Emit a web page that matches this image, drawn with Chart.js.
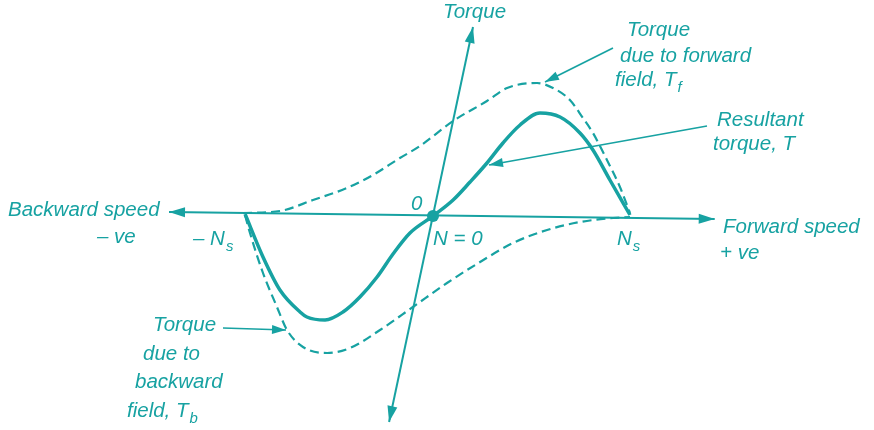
<!DOCTYPE html>
<html>
<head>
<meta charset="utf-8">
<script src="https://cdn.jsdelivr.net/npm/chart.js@4"></script>
<style>
  body { margin: 0; background: #fff; }
  canvas { display: block; }
</style>
</head>
<body>
<canvas id="chartTorque" width="874" height="430"></canvas>
<script>
// speed in units of Ns, torque in arbitrary units
const speedT = [-0.954, -0.863, -0.777, -0.675, -0.640, -0.548, -0.457, -0.371, -0.284, -0.203, -0.117, 0, 0.102, 0.188, 0.274, 0.355, 0.442, 0.543, 0.645, 0.746, 0.812, 0.898, 1.0];
const torqueT = [0.02, -0.41, -0.74, -0.96, -1.01, -1.04, -0.96, -0.81, -0.61, -0.38, -0.17, 0, 0.16, 0.34, 0.53, 0.73, 0.91, 1.03, 0.99, 0.83, 0.66, 0.36, 0.01];

const speedTf = [-0.964, -0.777, -0.609, -0.437, -0.305, -0.168, -0.066, 0.102, 0.274, 0.376, 0.528, 0.609, 0.695, 0.761, 0.812, 0.883, 0.949, 1.0];
const torqueTf = [0.03, 0.05, 0.16, 0.28, 0.41, 0.58, 0.70, 0.95, 1.15, 1.28, 1.33, 1.28, 1.16, 0.98, 0.83, 0.56, 0.29, 0.03];

const speedTb = [-0.954, -0.929, -0.863, -0.792, -0.741, -0.660, -0.538, -0.421, -0.269, -0.102, 0.071, 0.239, 0.406, 0.579, 0.746, 0.914, 1.0];
const torqueTb = [0.01, -0.17, -0.57, -0.91, -1.14, -1.31, -1.37, -1.32, -1.14, -0.91, -0.67, -0.46, -0.27, -0.14, -0.06, -0.02, -0.01];

// axis ends (speed axis and torque axis), same units
const speedAxisX = [-1.34, 1.43];
const speedAxisY = [0.04, -0.03];
const torqueAxisX = [-0.223, 0.203];
const torqueAxisY = [-2.06, 1.89];

const teal = '#17a2a2';

function pts(xs, ys) {
  return xs.map((x, i) => ({ x: x, y: ys[i] }));
}

// labels, left/baseline in px
const labels = [
  { t: 'Torque', x: 443, y: 18 },
  { t: 'Torque', x: 627, y: 36 },
  { t: 'due to forward', x: 620, y: 62 },
  { t: 'field, T', sub: 'f', x: 615, y: 86 },
  { t: 'Resultant', x: 717, y: 126 },
  { t: 'torque, T', x: 713, y: 150 },
  { t: 'Backward speed', x: 8, y: 216 },
  { t: '\u2013 ve', x: 97, y: 243 },
  { t: '\u2013 N', sub: 's', x: 193, y: 245 },
  { t: '0', x: 411, y: 210 },
  { t: 'N = 0', x: 433, y: 245 },
  { t: 'N', sub: 's', x: 617, y: 245 },
  { t: 'Forward speed', x: 723, y: 233 },
  { t: '+ ve', x: 720, y: 259 },
  { t: 'Torque', x: 153, y: 331 },
  { t: 'due to', x: 143, y: 360 },
  { t: 'backward', x: 135, y: 388 },
  { t: 'field, T', sub: 'b', x: 127, y: 417 }
];

// leader arrows [from, to] in px
const leaders = [
  [613, 48, 545, 82],
  [707, 126, 489, 165],
  [223, 328, 286, 330]
];

function arrowHead(c, x0, y0, x1, y1, len, half) {
  const a = Math.atan2(y1 - y0, x1 - x0);
  c.beginPath();
  c.moveTo(x1, y1);
  c.lineTo(x1 - len * Math.cos(a) + half * Math.sin(a), y1 - len * Math.sin(a) - half * Math.cos(a));
  c.lineTo(x1 - len * Math.cos(a) - half * Math.sin(a), y1 - len * Math.sin(a) + half * Math.cos(a));
  c.closePath();
  c.fill();
}

const decor = {
  id: 'decor',
  afterDatasetsDraw(chart) {
    const c = chart.ctx;
    const sx = chart.scales.x, sy = chart.scales.y;
    c.save();
    c.fillStyle = teal;
    c.strokeStyle = teal;

    // axis arrow heads
    const px = v => sx.getPixelForValue(v), py = v => sy.getPixelForValue(v);
    arrowHead(c, px(speedAxisX[1]), py(speedAxisY[1]), px(speedAxisX[0]), py(speedAxisY[0]), 16, 5);
    arrowHead(c, px(speedAxisX[0]), py(speedAxisY[0]), px(speedAxisX[1]), py(speedAxisY[1]), 16, 5);
    arrowHead(c, px(torqueAxisX[0]), py(torqueAxisY[0]), px(torqueAxisX[1]), py(torqueAxisY[1]), 16, 5);
    arrowHead(c, px(torqueAxisX[1]), py(torqueAxisY[1]), px(torqueAxisX[0]), py(torqueAxisY[0]), 16, 5);

    // origin dot
    c.beginPath();
    c.arc(px(0), py(0), 6, 0, Math.PI * 2);
    c.fill();

    // leaders
    c.lineWidth = 1.6;
    leaders.forEach(l => {
      c.beginPath();
      c.moveTo(l[0], l[1]);
      c.lineTo(l[2], l[3]);
      c.stroke();
      arrowHead(c, l[0], l[1], l[2], l[3], 14, 4.5);
    });

    // text
    c.textBaseline = 'alphabetic';
    labels.forEach(l => {
      c.font = 'italic 20.5px "Liberation Sans", Arial, sans-serif';
      c.fillText(l.t, l.x, l.y);
      if (l.sub) {
        const w = c.measureText(l.t).width;
        c.font = 'italic 15px "Liberation Sans", Arial, sans-serif';
        c.fillText(l.sub, l.x + w + 1, l.y + 6);
      }
    });
    c.restore();
  }
};

new Chart(document.getElementById('chartTorque'), {
  type: 'scatter',
  data: {
    datasets: [
      { label: 'speed axis', data: pts(speedAxisX, speedAxisY), showLine: true, borderColor: teal, borderWidth: 2, pointRadius: 0 },
      { label: 'torque axis', data: pts(torqueAxisX, torqueAxisY), showLine: true, borderColor: teal, borderWidth: 2, pointRadius: 0 },
      { label: 'Tf', data: pts(speedTf, torqueTf), showLine: true, borderColor: teal, borderWidth: 2.2, borderDash: [9, 5], pointRadius: 0, cubicInterpolationMode: 'monotone' },
      { label: 'Tb', data: pts(speedTb, torqueTb), showLine: true, borderColor: teal, borderWidth: 2.2, borderDash: [9, 5], pointRadius: 0, cubicInterpolationMode: 'monotone' },
      { label: 'T', data: pts(speedT, torqueT), showLine: true, borderColor: teal, borderWidth: 3.5, pointRadius: 0, cubicInterpolationMode: 'monotone' }
    ]
  },
  options: {
    responsive: false,
    animation: false,
    layout: { padding: 0 },
    plugins: { legend: { display: false }, tooltip: { enabled: false } },
    scales: {
      x: { type: 'linear', display: false, min: -433 / 197, max: 441 / 197 },
      y: { type: 'linear', display: false, min: -2.14, max: 2.16 }
    }
  },
  plugins: [decor]
});
</script>
</body>
</html>
